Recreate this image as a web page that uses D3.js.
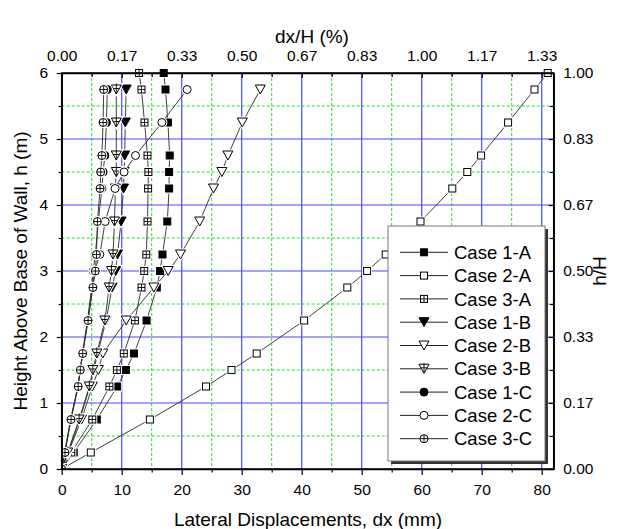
<!DOCTYPE html>
<html><head><meta charset="utf-8">
<script src="https://cdn.jsdelivr.net/npm/d3@7"></script>
<style>
body{margin:0;background:#fff}
svg{display:block}
text{font-family:"Liberation Sans",Arial,sans-serif;fill:#000}
</style>
</head><body>
<svg id="c" width="619" height="529"></svg>
<script>
// ---------------- data ----------------
const heights = [0, 0.25, 0.75, 1.25, 1.5, 1.75, 2.25, 2.75, 3.0, 3.25, 3.75, 4.25, 4.5, 4.75, 5.25, 5.75, 6.0];
const heightsShort = [0, 0.25, 0.75, 1.25, 1.5, 1.75, 2.25, 2.75, 3.0, 3.25, 3.75, 4.25, 4.5, 4.75, 5.25, 5.75];

const case1A = [0, 2.0, 5.85, 9.25, 10.7, 12.05, 14.15, 15.85, 16.4, 16.8, 17.6, 17.9, 17.9, 18.0, 17.7, 17.3, 17.0];
const case2A = [0, 4.85, 14.7, 24.05, 28.3, 32.5, 40.4, 47.6, 50.9, 54.0, 59.8, 65.1, 67.6, 69.9, 74.4, 78.8, 81.0];
const case3A = [0, 1.6, 5.1, 7.95, 9.2, 10.35, 12.2, 13.3, 13.75, 14.1, 14.3, 14.4, 14.45, 14.3, 13.8, 13.3, 12.9];
const case1B = [0, 1.05, 3.0, 4.7, 5.35, 6.0, 7.4, 8.4, 9.0, 9.3, 9.9, 10.3, 10.4, 10.5, 10.6, 10.75];
const case2B = [0, 1.1, 3.3, 5.1, 6.1, 6.85, 10.75, 15.35, 17.75, 19.8, 23.0, 25.3, 26.7, 27.7, 30.1, 33.1];
const case3B = [0, 1.0, 2.9, 4.6, 5.2, 5.85, 7.2, 7.9, 8.3, 8.55, 8.8, 8.95, 9.1, 9.1, 9.1, 9.1];
const case1C = [0, 0.5, 1.5, 2.7, 3.05, 3.45, 4.3, 5.0, 5.25, 5.6, 6.1, 6.7, 6.9, 7.2, 7.45, 7.6];
const case2C = [0, 0.5, 1.5, 2.7, 3.1, 3.5, 4.35, 5.1, 5.5, 6.35, 7.25, 8.9, 10.4, 12.3, 16.7, 20.9];
const case3C = [0, 0.55, 1.55, 2.75, 3.1, 3.5, 4.4, 5.2, 5.6, 5.8, 5.95, 6.4, 6.5, 6.7, 6.9, 7.0];

const seriesNames = ["Case 1-A","Case 2-A","Case 3-A","Case 1-B","Case 2-B","Case 3-B","Case 1-C","Case 2-C","Case 3-C"];
const seriesSymbols = ["sqFill","sqOpen","sqCross","triFill","triOpen","triCross","cirFill","cirOpen","cirCross"];

const xTicks = [0, 10, 20, 30, 40, 50, 60, 70, 80];
const xMinorTicks = [5, 15, 25, 35, 45, 55, 65, 75];
const topTickLabels = ["0.00","0.17","0.33","0.50","0.67","0.83","1.00","1.17","1.33"];
const yTicks = [0, 1, 2, 3, 4, 5, 6];
const yMinorTicks = [0.5, 1.5, 2.5, 3.5, 4.5, 5.5];
const rightTickLabels = ["0.00","0.17","0.33","0.50","0.67","0.83","1.00"];

const seriesValues = [case1A, case2A, case3A, case1B, case2B, case3B, case1C, case2C, case3C];
const seriesHeights = [heights, heights, heights, heightsShort, heightsShort, heightsShort, heightsShort, heightsShort, heightsShort];

// ---------------- chart ----------------
const svg = d3.select("#c");
const L = 61.7, R = 553.7, T = 73, B = 469;
const x = d3.scaleLinear().domain([0, 82]).range([L, R]);
const y = d3.scaleLinear().domain([0, 6]).range([B, T]);

// grid
const grid = svg.append("g");
grid.selectAll(".gmx").data(xMinorTicks).enter().append("line")
  .attr("x1", d => x(d)).attr("x2", d => x(d)).attr("y1", T).attr("y2", B)
  .attr("stroke", "#22e022").attr("stroke-width", 1).attr("stroke-dasharray", "3,2");
grid.selectAll(".gmy").data(yMinorTicks).enter().append("line")
  .attr("x1", L).attr("x2", R).attr("y1", d => y(d)).attr("y2", d => y(d))
  .attr("stroke", "#22e022").attr("stroke-width", 1).attr("stroke-dasharray", "3,2");
grid.selectAll(".gx").data(xTicks.filter(d => d > 0)).enter().append("line")
  .attr("x1", d => x(d)).attr("x2", d => x(d)).attr("y1", T).attr("y2", B)
  .attr("stroke", "#4a4aff").attr("stroke-width", 1.2);
grid.selectAll(".gy").data(yTicks.filter(d => d > 0 && d < 6)).enter().append("line")
  .attr("x1", L).attr("x2", R).attr("y1", d => y(d)).attr("y2", d => y(d))
  .attr("stroke", "#4a4aff").attr("stroke-width", 1.2);

// clip for data
svg.append("clipPath").attr("id", "clp").append("rect")
  .attr("x", L).attr("y", T - 8).attr("width", R - L + 8).attr("height", B - T + 8);

// markers
function drawMarker(g, type, cx, cy, halo) {
  const m = g.append("g").attr("transform", `translate(${cx},${cy})`);
  const s = 3.5;            // half side of square
  const r = 4;              // circle radius
  const tw = 5, th = 4.5;   // triangle half width / half height
  const layers = halo ? ["halo", "main"] : ["main"];
  layers.forEach(layer => {
    const isHalo = layer === "halo";
    const stroke = isHalo ? "#fff" : "#000";
    const sw = isHalo ? 3 : 1;
    const filled = type.endsWith("Fill");
    const fill = isHalo ? "#fff" : (filled ? "#000" : "#fff");
    let shape;
    if (type.startsWith("sq")) {
      shape = m.append("rect").attr("x", -s).attr("y", -s).attr("width", 2 * s).attr("height", 2 * s);
    } else if (type.startsWith("tri")) {
      shape = m.append("path").attr("d", `M${-tw},${-th}L${tw},${-th}L0,${th}Z`);
    } else {
      shape = m.append("circle").attr("r", r);
    }
    shape.attr("fill", fill).attr("stroke", stroke).attr("stroke-width", sw);
    if (!isHalo && type.endsWith("Cross")) {
      let p;
      if (type.startsWith("sq")) p = `M${-s},0H${s}M0,${-s}V${s}`;
      else if (type.startsWith("tri")) p = `M-3,-1H3M0,${-th - 1.5}V${th}`;
      else p = `M${-r},0H${r}M0,${-r}V${r}`;
      m.append("path").attr("d", p).attr("stroke", "#000").attr("stroke-width", 0.9).attr("fill", "none");
    }
  });
}

const plot = svg.append("g").attr("clip-path", "url(#clp)");
const line = d3.line().x(d => x(d[0])).y(d => y(d[1]));
seriesValues.forEach((vals, i) => {
  const pts = vals.map((v, j) => [v, seriesHeights[i][j]]);
  plot.append("path").datum(pts).attr("d", line)
    .attr("fill", "none").attr("stroke", "#2a2a2a").attr("stroke-width", 0.9);
  const mg = plot.append("g");
  pts.forEach(p => drawMarker(mg, seriesSymbols[i], x(p[0]), y(p[1]), true));
});

// axes
function styleAxis(g) {
  g.select(".domain").attr("stroke", "#000").attr("stroke-width", 1.5);
  g.selectAll(".tick line").attr("stroke", "#000").attr("stroke-width", 1.2);
  g.selectAll("text").style("font-family", '"Liberation Sans",Arial,sans-serif').style("font-size", "15.5px").attr("fill", "#000");
}
// bottom
const gb = svg.append("g").attr("transform", `translate(0,${B})`)
  .call(d3.axisBottom(x).tickValues(xTicks).tickSizeInner(6).tickSizeOuter(0).tickPadding(4).tickFormat(d3.format("d")));
styleAxis(gb);
gb.selectAll("text").attr("y", 26).attr("dy", 0);
svg.append("g").attr("transform", `translate(0,${B})`)
  .call(d3.axisBottom(x).tickValues(xMinorTicks).tickSizeInner(3.5).tickSizeOuter(0).tickFormat(""))
  .call(g => { g.select(".domain").remove(); g.selectAll("line").attr("stroke", "#000").attr("stroke-width", 1.2); });
// top
const gt = svg.append("g").attr("transform", `translate(0,${T})`)
  .call(d3.axisTop(x).tickValues(xTicks).tickSizeInner(-5).tickSizeOuter(0).tickPadding(12)
    .tickFormat((d, i) => topTickLabels[i]));
styleAxis(gt);
svg.append("g").attr("transform", `translate(0,${T})`)
  .call(d3.axisTop(x).tickValues(xMinorTicks).tickSizeInner(-4).tickSizeOuter(0).tickFormat(""))
  .call(g => { g.select(".domain").remove(); g.selectAll("line").attr("stroke", "#000").attr("stroke-width", 1.2); });
// left
const gl = svg.append("g").attr("transform", `translate(${L},0)`)
  .call(d3.axisLeft(y).tickValues(yTicks).tickSizeInner(5).tickSizeOuter(0).tickPadding(8.5).tickFormat(d3.format("d")));
styleAxis(gl);
svg.append("g").attr("transform", `translate(${L},0)`)
  .call(d3.axisLeft(y).tickValues(yMinorTicks).tickSizeInner(3).tickSizeOuter(0).tickFormat(""))
  .call(g => { g.select(".domain").remove(); g.selectAll("line").attr("stroke", "#000").attr("stroke-width", 1.2); });
// right
const gr = svg.append("g").attr("transform", `translate(${R},0)`)
  .call(d3.axisRight(y).tickValues(yTicks).tickSizeInner(-5).tickSizeOuter(0).tickPadding(9.5)
    .tickFormat((d, i) => rightTickLabels[i]));
styleAxis(gr);
svg.append("g").attr("transform", `translate(${R},0)`)
  .call(d3.axisRight(y).tickValues(yMinorTicks).tickSizeInner(-4).tickSizeOuter(0).tickFormat(""))
  .call(g => { g.select(".domain").remove(); g.selectAll("line").attr("stroke", "#000").attr("stroke-width", 1.2); });

// frame on top
svg.append("rect").attr("x", L).attr("y", T).attr("width", R - L).attr("height", B - T)
  .attr("fill", "none").attr("stroke", "#000").attr("stroke-width", 1.5);

// titles
svg.append("text").attr("x", 312).attr("y", 43).attr("text-anchor", "middle").style("font-size", "19px").text("dx/H (%)");
svg.append("text").attr("x", 308).attr("y", 526).attr("text-anchor", "middle").style("font-size", "19px").text("Lateral Displacements, dx (mm)");
svg.append("text").attr("transform", `translate(27,${(T + B) / 2}) rotate(-90)`).attr("text-anchor", "middle").style("font-size", "19px").text("Height Above Base of Wall, h (m)");
svg.append("text").attr("transform", `translate(606,${(T + B) / 2}) rotate(-90)`).attr("text-anchor", "middle").style("font-size", "19px").text("h/H");

// legend
const lg = svg.append("g");
const lx = 388, ly = 226, lw = 157, lh = 235;
lg.append("rect").attr("x", lx + 3).attr("y", ly + 3).attr("width", lw).attr("height", lh).attr("fill", "#333");
lg.append("rect").attr("x", lx).attr("y", ly).attr("width", lw).attr("height", lh).attr("fill", "#fff").attr("stroke", "#777").attr("stroke-width", 1);
seriesNames.forEach((name, i) => {
  const yy = 252.3 + i * 23.3;
  lg.append("line").attr("x1", 400).attr("x2", 448).attr("y1", yy).attr("y2", yy).attr("stroke", "#222").attr("stroke-width", 1);
  drawMarker(lg, seriesSymbols[i], 424, yy, false);
  lg.append("text").attr("x", 454).attr("y", yy).attr("dy", "0.36em").style("font-size", "18.5px").text(name);
});
</script>
</body></html>
